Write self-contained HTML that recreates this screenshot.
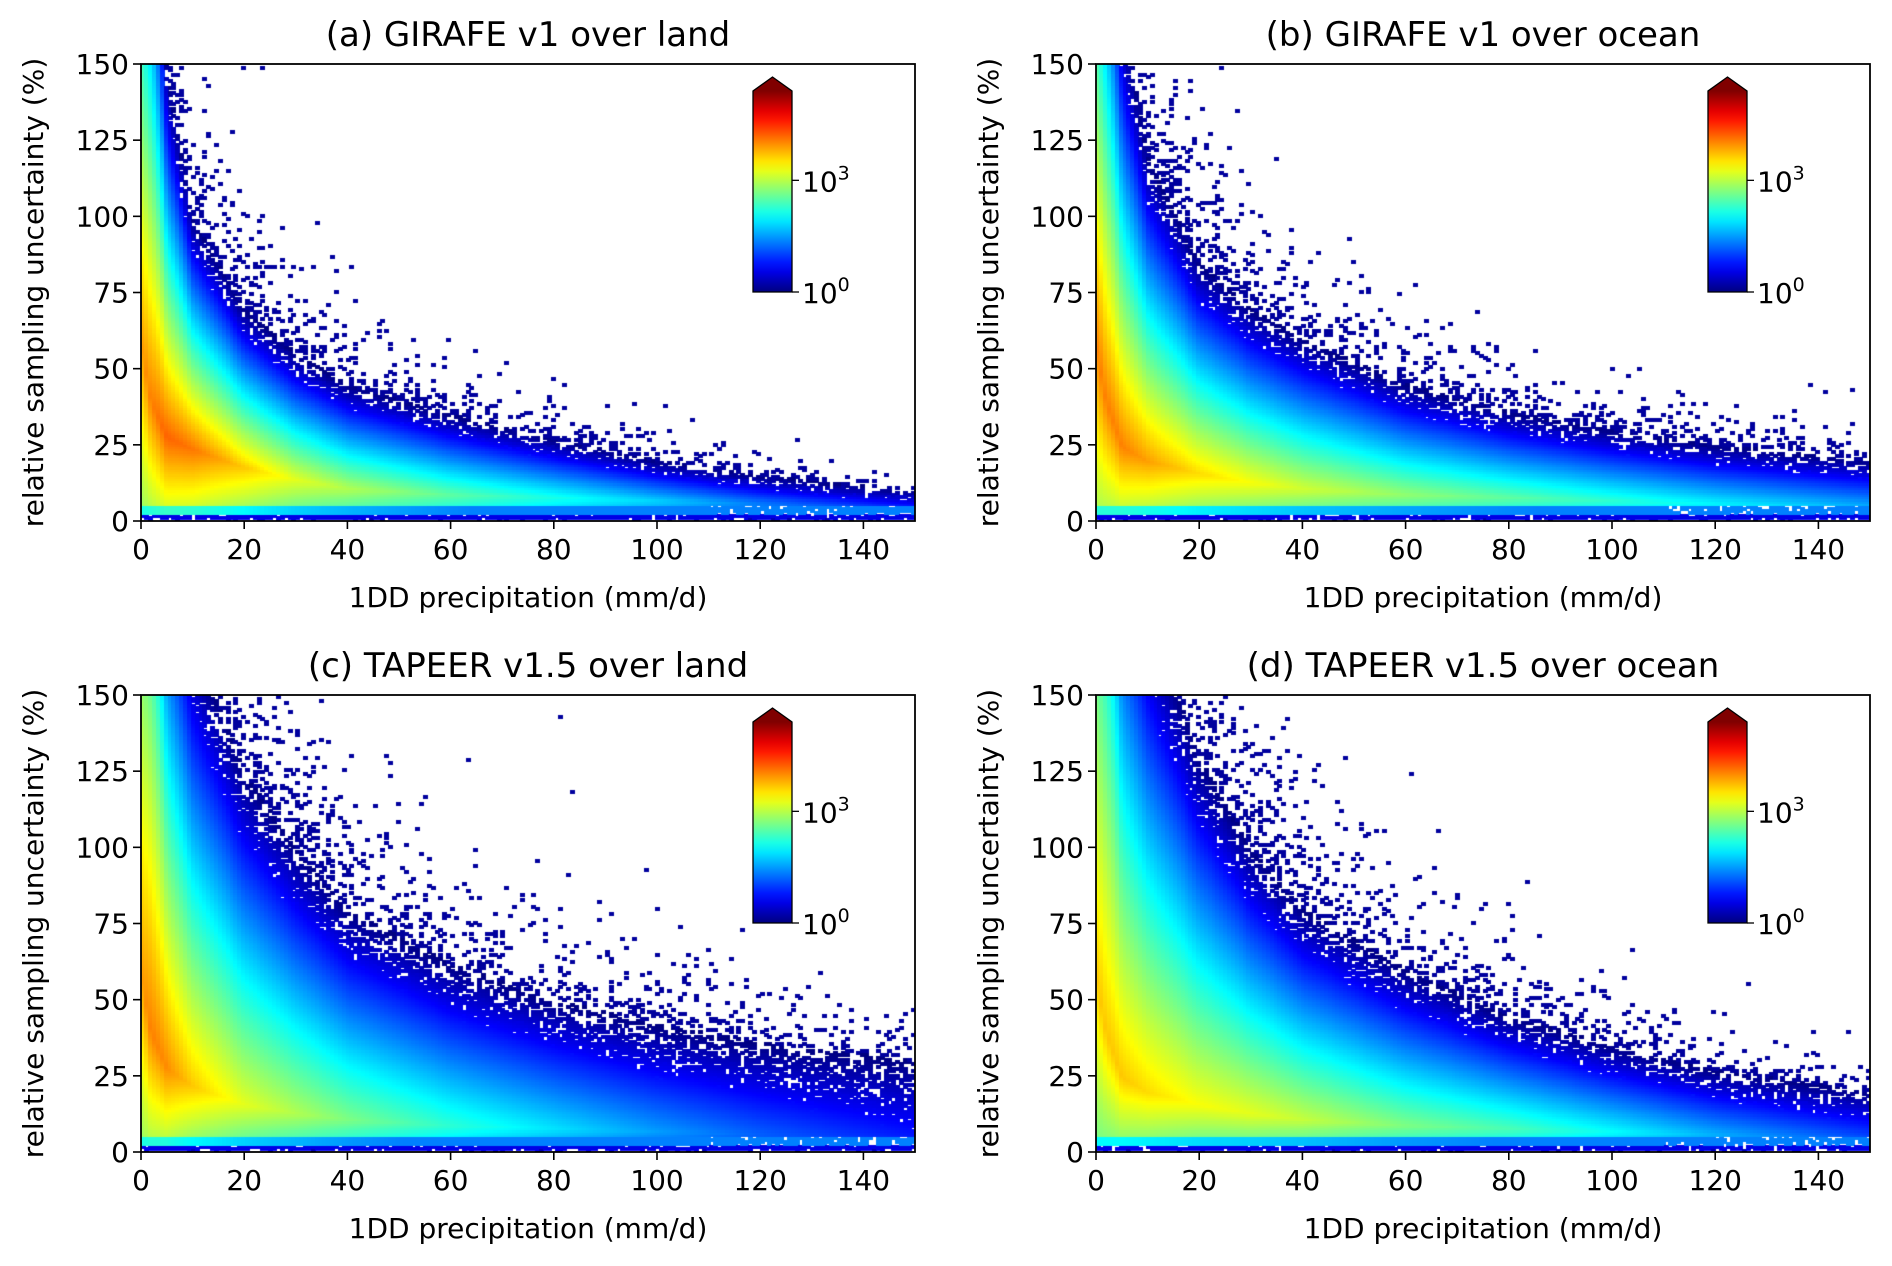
<!DOCTYPE html>
<html><head><meta charset="utf-8">
<style>
body{margin:0;background:#fff;width:1892px;height:1266px;position:relative;overflow:hidden;font-family:"DejaVu Sans","Liberation Sans",sans-serif;}
canvas{position:absolute;}
svg{position:absolute;left:0;top:0;}
</style></head>
<body>
<canvas id="cA"></canvas>
<canvas id="cB"></canvas>
<canvas id="cC"></canvas>
<canvas id="cD"></canvas>
<svg id="svg" width="1892" height="1266"></svg>
<script>
// knot x positions (mm/d)
const knotsX = [0,2,5,10,20,30,40,60,80,100,120,150];
// upper edge of the populated region (%)
const edgeA = [300,250,150,100,70,55,45,35,27,20,15,10];
const edgeB = [300,250,170,120,85,70,60,45,36,30,25,20];
const edgeC = [400,350,230,170,125,100,80,62,50,42,36,30];
const edgeD = [400,350,230,180,130,100,80,60,45,35,27,20];
// peak density (normalized log count 0..1)
const peakA = [0.72,0.75,0.78,0.76,0.68,0.6,0.55,0.47,0.4,0.33,0.25,0.15];
const peakB = [0.75,0.75,0.75,0.72,0.66,0.62,0.58,0.52,0.47,0.42,0.37,0.3];
const peakC = [0.72,0.75,0.74,0.68,0.6,0.55,0.5,0.42,0.35,0.28,0.22,0.15];
const peakD = [0.68,0.68,0.68,0.66,0.62,0.6,0.57,0.5,0.45,0.38,0.3,0.2];
// y location of the density ridge (%)
const ridgeA = [60,40,28,24,18,14,11,9,8,7,6,5];
const ridgeB = [60,40,25,20,16,13,11,9,8,7,6,5];
const ridgeC = [60,40,28,22,16,13,11,9,8,7,6,5];
const ridgeD = [60,40,25,20,16,13,11,9,8,7,6,5];
const titles = ["(a) GIRAFE v1 over land","(b) GIRAFE v1 over ocean","(c) TAPEER v1.5 over land","(d) TAPEER v1.5 over ocean"];
const xTicks = [0,20,40,60,80,100,120,140];
const yTicks = [0,25,50,75,100,125,150];
const cbTicks = [0,3];

const W=774,H=457;
const panels=[
 {id:'cA',l:141,t:64,edge:edgeA,peak:peakA,ridge:ridgeA,seed:1},
 {id:'cB',l:1096,t:64,edge:edgeB,peak:peakB,ridge:ridgeB,seed:2},
 {id:'cC',l:141,t:695,edge:edgeC,peak:peakC,ridge:ridgeC,seed:3},
 {id:'cD',l:1096,t:695,edge:edgeD,peak:peakD,ridge:ridgeD,seed:4}];
function interp(arr,x){for(let i=0;i<knotsX.length-1;i++){if(x<=knotsX[i+1]){const f=(x-knotsX[i])/(knotsX[i+1]-knotsX[i]);return arr[i]+f*(arr[i+1]-arr[i]);}}return arr[arr.length-1];}
function cl(v){return Math.max(0,Math.min(1,v));}
function jet(v){return 'rgb('+Math.round(255*cl(1.5-Math.abs(4*v-3)))+','+Math.round(255*cl(1.5-Math.abs(4*v-2)))+','+Math.round(255*cl(1.5-Math.abs(4*v-1)))+')';}
function rnd(a,b,s){let h=(a*374761393+b*668265263+s*982451653)|0;h=(h^(h>>>13))*1274126177|0;h=h^(h>>>16);return ((h>>>0)%100000)/100000;}
const xScale=(x,p)=>x/150*W, yScale=y=>H-y/150*H;
const NX=200,NY=200;
panels.forEach(p=>{
 const c=document.getElementById(p.id);c.width=W;c.height=H;c.style.left=p.l+'px';c.style.top=p.t+'px';
 const g=c.getContext('2d');
 for(let i=0;i<NX;i++){
  const x=(i+0.5)*150/NX;
  const E=interp(p.edge,x),M=interp(p.peak,x),P=interp(p.ridge,x);
  for(let j=0;j<NY;j++){
   const y=(j+0.5)*150/NY;const r=rnd(i,j,p.seed);
   let v=null;
   if(y<0.8){ if(r<0.15) v=0.05; }
   else if(y<2.3){ if(r<0.85) v=0.1; }
   else if(y<5){ v=Math.max(M*0.55,0.25)*(E>5?1:0.5); if(x>110&&r<0.3) v=null; }
   else if(y>E){ const pr=0.3*Math.exp(-(y-E)/(0.2*E)); if(r<pr) v=0.03; }
   else if(y>=P){ v=M*(1-(y-P)/(E-P)); }
   else { v=M*(1-0.3*(P-y)/P); }
   if(v!==null && y<=E && y>=5 && v<0.14){ if(r>0.35+v*4.5) v=null; }
   if(v===null) continue;
   g.fillStyle=jet(v);
   const x0=xScale(i*150/NX),x1=xScale((i+1)*150/NX),y0=yScale((j+1)*150/NY),y1=yScale(j*150/NY);
   g.fillRect(Math.floor(x0),Math.floor(y0),Math.ceil(x1-x0)+1,Math.ceil(y1-y0)+1);
  }
 }
});
// axes
const svg=document.getElementById('svg');const NS='http://www.w3.org/2000/svg';
function mk(tag,attrs,parent){const e=document.createElementNS(NS,tag);for(const k in attrs)e.setAttribute(k,attrs[k]);(parent||svg).appendChild(e);return e;}
const defs=mk('defs',{});const lg=mk('linearGradient',{id:'jetg',x1:0,y1:1,x2:0,y2:0},defs);
for(let k=0;k<=20;k++){mk('stop',{offset:k/20,'stop-color':jet(k/20)},lg);}
panels.forEach((p,pi)=>{
 const gr=mk('g',{});
 
 
 const fr=mk('rect',{x:p.l,y:p.t,width:W,height:H,fill:'none',stroke:'#000','stroke-width':1.8},gr);
 
 
 const tt=mk('text',{x:p.l+W/2,y:p.t-18,'text-anchor':'middle','font-size':34},gr);tt.textContent=titles[pi];
 
 
 xTicks.forEach(v=>{const X=p.l+xScale(v);mk('line',{x1:X,x2:X,y1:p.t+H,y2:p.t+H+8,stroke:'#000','stroke-width':1.6},gr);
  const t=mk('text',{x:X,y:p.t+H+38,'text-anchor':'middle','font-size':28},gr);t.textContent=v;
  
  });
 yTicks.forEach(v=>{const Y=p.t+yScale(v);mk('line',{x1:p.l-8,x2:p.l,y1:Y,y2:Y,stroke:'#000','stroke-width':1.6},gr);
  const t=mk('text',{x:p.l-12,y:Y+10,'text-anchor':'end','font-size':28},gr);t.textContent=v;
  
  });
 const xl=mk('text',{x:p.l+W/2,y:p.t+H+86,'text-anchor':'middle','font-size':28},gr);xl.textContent='1DD precipitation (mm/d)';
 
 
 const yx=p.l-98,yy=p.t+H/2;
 const yl=mk('text',{x:yx,y:yy,'text-anchor':'middle','font-size':28,transform:'rotate(-90 '+yx+' '+yy+')'},gr);yl.textContent='relative sampling uncertainty (%)';
 
 
 // colorbar
 const cx=p.l+612,cw=39,ct=p.t+27,cb=p.t+228,tip=p.t+13;
 const cbar=mk('g',{},gr);
 
 
 mk('rect',{x:cx,y:ct,width:cw,height:cb-ct,fill:'url(#jetg)'},cbar);
 mk('polygon',{points:cx+','+ct+' '+(cx+cw/2)+','+tip+' '+(cx+cw)+','+ct,fill:'rgb(128,0,0)'},cbar);
 mk('polygon',{points:cx+','+(cb)+' '+cx+','+ct+' '+(cx+cw/2)+','+tip+' '+(cx+cw)+','+ct+' '+(cx+cw)+','+cb,fill:'none',stroke:'#000','stroke-width':1.3},cbar);
 cbTicks.forEach(d=>{const Y=cb-(cb-ct)*d/5.4;mk('line',{x1:cx+cw,x2:cx+cw+7,y1:Y,y2:Y,stroke:'#000','stroke-width':1.3},cbar);
  const t=mk('text',{x:cx+cw+10,y:Y+11,'font-size':28},cbar);t.textContent='10';
  const s=mk('tspan',{dy:-12,'font-size':19},t);s.textContent=String(d);
  
  });
});
</script>
</body></html>
